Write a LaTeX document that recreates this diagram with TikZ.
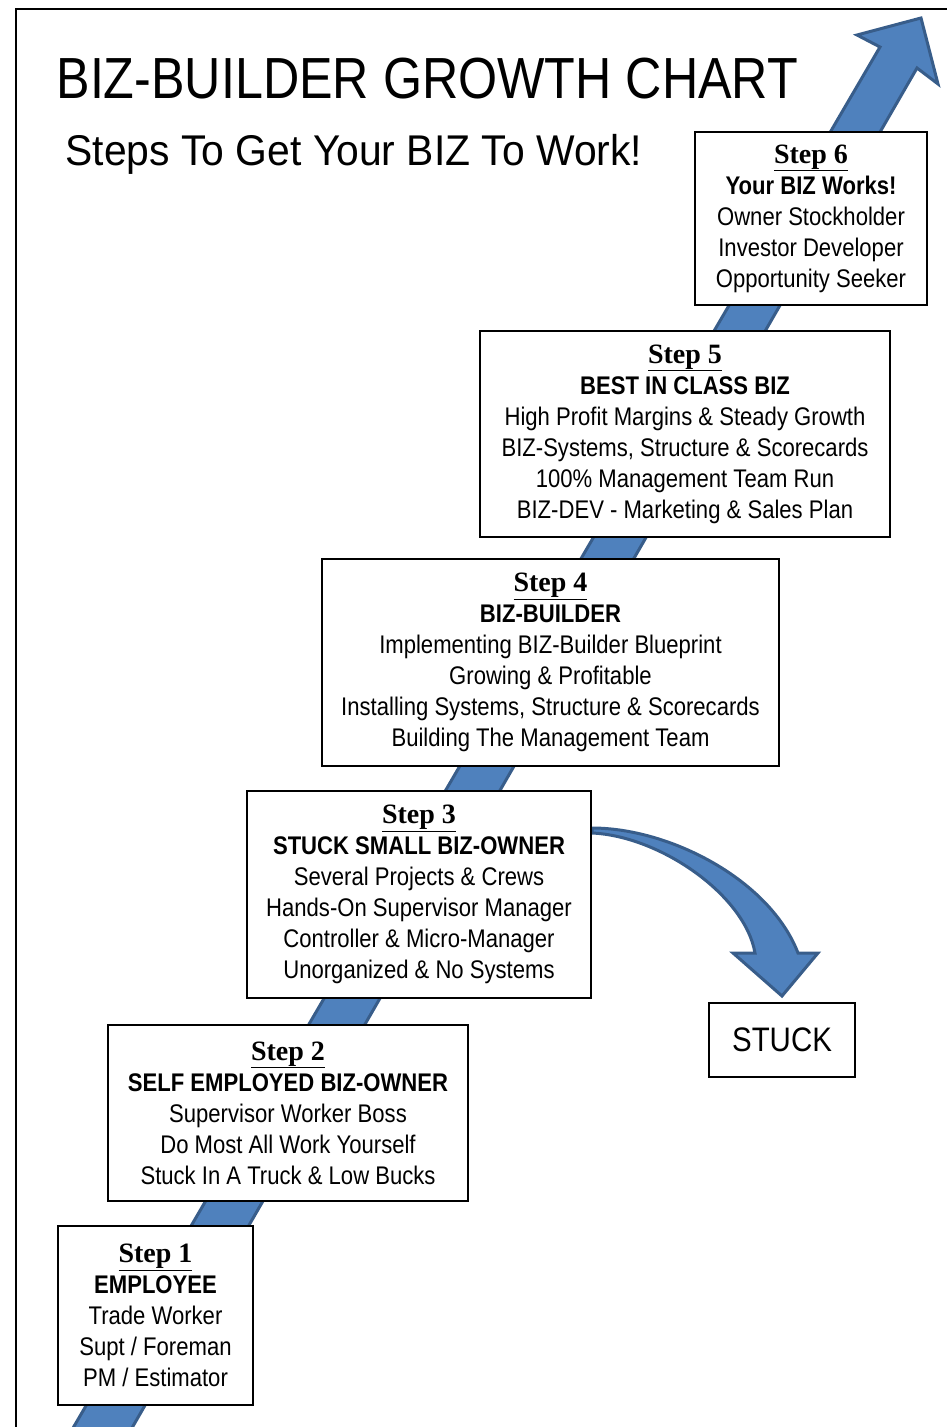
\documentclass[tikz,border=0pt]{standalone}
\usepackage{fontspec}
\setmainfont{Liberation Sans}[FakeStretch=0.866]
\newfontfamily\stepfont{Liberation Serif}
\newfontfamily\subfont{Liberation Sans}[FakeStretch=0.95]
\definecolor{arrowfill}{RGB}{79,129,189}
\definecolor{arrowline}{RGB}{56,93,138}
\newcommand{\stephead}[1]{{\stepfont\bfseries\fontsize{28}{31}\selectfont\underline{#1}}}

\begin{document}
\begin{tikzpicture}[x=1pt, y=-1pt,
        stepbox/.style={draw, line width=2pt, fill=white, inner sep=0pt, align=center,
            font=\fontsize{25.5}{31}\selectfont},
        blockarrow/.style={fill=arrowfill, draw=arrowline, line width=3pt, line join=miter}]
    \useasboundingbox (0,0) rectangle (947,1427);
    \draw [line width=2pt] (16,1440) -- (16,9) -- (960,9);
    % the growth arrow
    \draw [blockarrow] (66,1440) -- (880,47) -- (857,35) -- (921,18) -- (938,84)
        -- (917,68) -- (125,1440) -- cycle;
    % the way down to stuck
    \draw [blockarrow] (592,828) .. controls (670,828) and (770,880) .. (798,953)
        -- (818,953) -- (782,996) -- (733,953) -- (755,953)
        .. controls (745,895) and (660,836) .. (592,833) -- cycle;
    \node [anchor=base west, font=\fontsize{58}{58}\selectfont] (title) at (53,98)
        {BIZ-BUILDER GROWTH CHART};
    \node [anchor=base west, font=\subfont\fontsize{43}{43}\selectfont] (subtitle) at (62,165)
        {Steps To Get Your BIZ To Work!};
    \node [stepbox, minimum width=195, minimum height=179] (step1) at (155.5,1315.5)
        {\stephead{Step 1}\\ \textbf{EMPLOYEE}\\ Trade Worker\\ Supt / Foreman\\ PM / Estimator};
    \node [stepbox, minimum width=360, minimum height=176] (step2) at (288,1113)
        {\stephead{Step 2}\\ \textbf{SELF EMPLOYED BIZ-OWNER}\\ Supervisor Worker Boss\\
         Do Most All Work Yourself\\ Stuck In A Truck \& Low Bucks};
    \node [stepbox, minimum width=344, minimum height=207] (step3) at (419,894.5)
        {\stephead{Step 3}\\ \textbf{STUCK SMALL BIZ-OWNER}\\ Several Projects \& Crews\\
         Hands-On Supervisor Manager\\ Controller \& Micro-Manager\\ Unorganized \& No Systems};
    \node [stepbox, minimum width=457, minimum height=207] (step4) at (550.5,662.5)
        {\stephead{Step 4}\\ \textbf{BIZ-BUILDER}\\ Implementing BIZ-Builder Blueprint\\
         Growing \& Profitable\\ Installing Systems, Structure \& Scorecards\\
         Building The Management Team};
    \node [stepbox, minimum width=410, minimum height=206] (step5) at (685,434)
        {\stephead{Step 5}\\ \textbf{BEST IN CLASS BIZ}\\ High Profit Margins \& Steady Growth\\
         BIZ-Systems, Structure \& Scorecards\\ 100\% Management Team Run\\
         BIZ-DEV - Marketing \& Sales Plan};
    \node [stepbox, minimum width=232, minimum height=173] (step6) at (811,218.5)
        {\stephead{Step 6}\\ \textbf{Your BIZ Works!}\\ Owner Stockholder\\
         Investor Developer\\ Opportunity Seeker};
    \node [stepbox, minimum width=146, minimum height=74, font=\fontsize{34}{34}\selectfont]
        (stuck) at (782,1040) {STUCK};
\end{tikzpicture}
\end{document}
